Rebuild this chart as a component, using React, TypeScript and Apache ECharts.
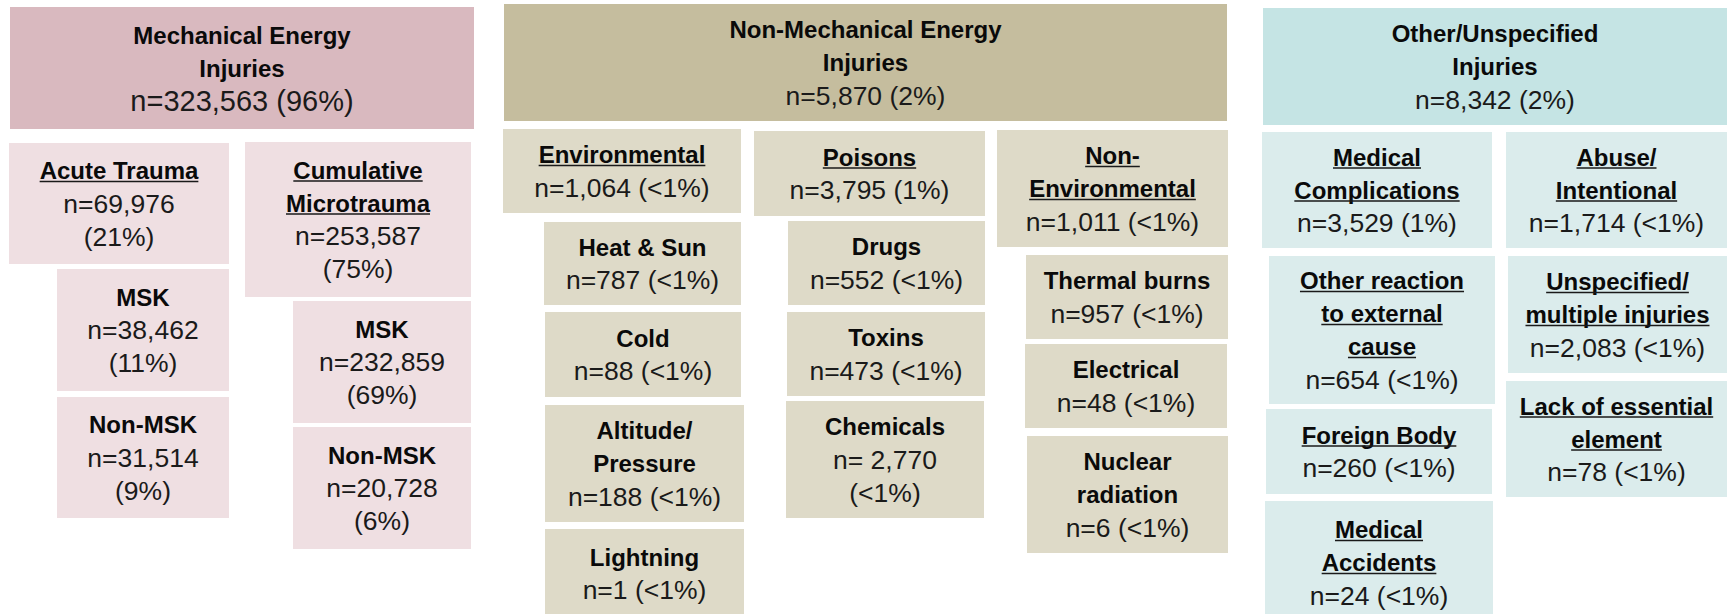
import React, { useEffect, useRef } from "react";
import * as echarts from "echarts";

const W = 1727;
const H = 614;

// ---- data ----
const nodeNames = [
  "Mechanical Energy\nInjuries",
  "Acute Trauma",
  "MSK",
  "Non-MSK",
  "Cumulative\nMicrotrauma",
  "MSK",
  "Non-MSK",
  "Non-Mechanical Energy\nInjuries",
  "Environmental",
  "Heat & Sun",
  "Cold",
  "Altitude/\nPressure",
  "Lightning",
  "Poisons",
  "Drugs",
  "Toxins",
  "Chemicals",
  "Non-\nEnvironmental",
  "Thermal burns",
  "Electrical",
  "Nuclear\nradiation",
  "Other/Unspecified\nInjuries",
  "Medical\nComplications",
  "Other reaction\nto external\ncause",
  "Foreign Body",
  "Medical\nAccidents",
  "Abuse/\nIntentional",
  "Unspecified/\nmultiple injuries",
  "Lack of essential\nelement",
];
const nodeCounts = [
  323563, 69976, 38462, 31514, 253587, 232859, 20728,
  5870, 1064, 787, 88, 188, 1, 3795, 552, 473, 2770, 1011, 957, 48, 6,
  8342, 3529, 654, 260, 24, 1714, 2083, 78,
];
const nodePercents = [
  "96%", "21%", "11%", "9%", "75%", "69%", "6%",
  "2%", "<1%", "<1%", "<1%", "<1%", "<1%", "1%", "<1%", "<1%", "<1%", "<1%", "<1%", "<1%", "<1%",
  "2%", "1%", "<1%", "<1%", "<1%", "<1%", "<1%", "<1%",
];
// 0 = top-level group, 1 = category (underlined), 2 = sub-item
const nodeLevels = [
  0, 1, 2, 2, 1, 2, 2,
  0, 1, 2, 2, 2, 2, 1, 2, 2, 2, 1, 2, 2, 2,
  0, 1, 1, 1, 1, 1, 1, 1,
];
const nodeFamily = [
  0, 0, 0, 0, 0, 0, 0,
  1, 1, 1, 1, 1, 1, 1, 1, 1, 1, 1, 1, 1, 1,
  2, 2, 2, 2, 2, 2, 2, 2,
];

// ---- layout (pixel boxes: x0, y0, x1, y1) ----
const boxes = [
  [10, 7, 474, 129],
  [9, 143, 229, 264],
  [57, 269, 229, 391],
  [57, 397, 229, 518],
  [245, 142, 471, 297],
  [293, 301, 471, 423],
  [293, 427, 471, 549],
  [504, 4, 1227, 121],
  [503, 129, 741, 213],
  [544, 222, 741, 305],
  [545, 312, 741, 397],
  [545, 405, 744, 522],
  [545, 529, 744, 618],
  [754, 131, 985, 216],
  [788, 221, 985, 305],
  [787, 312, 985, 396],
  [786, 401, 984, 518],
  [997, 130, 1228, 247],
  [1026, 255, 1228, 339],
  [1025, 344, 1227, 428],
  [1027, 436, 1228, 553],
  [1263, 8, 1727, 125],
  [1262, 132, 1492, 248],
  [1269, 256, 1495, 404],
  [1266, 409, 1492, 494],
  [1265, 501, 1493, 624],
  [1506, 132, 1727, 248],
  [1508, 256, 1727, 373],
  [1506, 381, 1727, 497],
];
const pctOnNewLine = [
  false, true, true, true, true, true, true,
  false, false, false, false, false, false, false, false, false, true, false, false, false, false,
  false, false, false, false, false, false, false, false,
];
const spacedEquals = [16];

const headerFill = ["#D9B9BF", "#C5BD9E", "#C5E4E4"];
const boxFill = ["#EFDFE2", "#DEDAC8", "#DBECEC"];
const FONT = '"Liberation Sans", Arial, sans-serif';
const TITLE_SIZE = 24;
const N_SIZE = 26.5;
const LINE_H = 33;

function formatCount(i: number) {
  const eq = spacedEquals.includes(i) ? "n= " : "n=";
  return eq + nodeCounts[i].toLocaleString("en-US");
}

let measureCtx: CanvasRenderingContext2D | null = null;
function measure(text: string, font: string) {
  if (!measureCtx) measureCtx = document.createElement("canvas").getContext("2d");
  if (!measureCtx) return text.length * 12;
  measureCtx.font = font;
  return measureCtx.measureText(text).width;
}

export default function App() {
  const ref = useRef<HTMLDivElement>(null);

  useEffect(() => {
    if (!ref.current) return;
    const chart = echarts.init(ref.current, undefined, { renderer: "svg" });

    const data = boxes.map((b, i) => [b[0], b[1], b[2], b[3], i]);

    const renderItem = (params: any, api: any) => {
      const i = api.value(4);
      const p0 = api.coord([api.value(0), api.value(1)]);
      const p1 = api.coord([api.value(2), api.value(3)]);
      const x0 = p0[0];
      const y0 = Math.min(p0[1], p1[1]);
      const w = p1[0] - p0[0];
      const h = Math.abs(p1[1] - p0[1]);
      const level = nodeLevels[i];
      const fam = nodeFamily[i];

      const titleLines = nodeNames[i].split("\n");
      const nSize = i === 0 ? 29 : N_SIZE;
      const countLines = pctOnNewLine[i]
        ? [formatCount(i), "(" + nodePercents[i] + ")"]
        : [formatCount(i) + " (" + nodePercents[i] + ")"];

      const lines: { text: string; bold: boolean; size: number }[] = [];
      titleLines.forEach((t) => lines.push({ text: t, bold: true, size: TITLE_SIZE }));
      countLines.forEach((t) => lines.push({ text: t, bold: false, size: nSize }));

      const cx = x0 + w / 2;
      const cy = y0 + h / 2;
      const startY = cy - ((lines.length - 1) * LINE_H) / 2;

      const children: any[] = [
        {
          type: "rect",
          shape: { x: x0, y: y0, width: w, height: h },
          style: { fill: level === 0 ? headerFill[fam] : boxFill[fam] },
        },
      ];
      lines.forEach((ln, k) => {
        const y = startY + k * LINE_H;
        const font = (ln.bold ? "bold " : "") + ln.size + "px " + FONT;
        children.push({
          type: "text",
          x: cx,
          y: y,
          style: {
            text: ln.text,
            font: font,
            fill: ln.bold ? "#0a0a0a" : "#1a1a1a",
            align: "center",
            verticalAlign: "middle",
          },
        });
        if (ln.bold && level === 1) {
          const tw = measure(ln.text, font);
          const uy = y + ln.size * 0.46;
          children.push({
            type: "line",
            shape: { x1: cx - tw / 2, y1: uy, x2: cx + tw / 2, y2: uy },
            style: { stroke: "#1a1a1a", lineWidth: 1.6 },
          });
        }
      });
      return { type: "group", children };
    };

    chart.setOption({
      animation: false,
      backgroundColor: "#ffffff",
      grid: { left: 0, right: 0, top: 0, bottom: 0 },
      xAxis: { type: "value", min: 0, max: W, show: false },
      yAxis: { type: "value", min: 0, max: H, inverse: true, show: false },
      series: [
        {
          type: "custom",
          silent: true,
          clip: true,
          renderItem,
          data,
        },
      ],
    });

    return () => chart.dispose();
  }, []);

  return (
    <div
      ref={ref}
      style={{ position: "fixed", left: 0, top: 0, width: W, height: H, background: "#fff" }}
    />
  );
}
